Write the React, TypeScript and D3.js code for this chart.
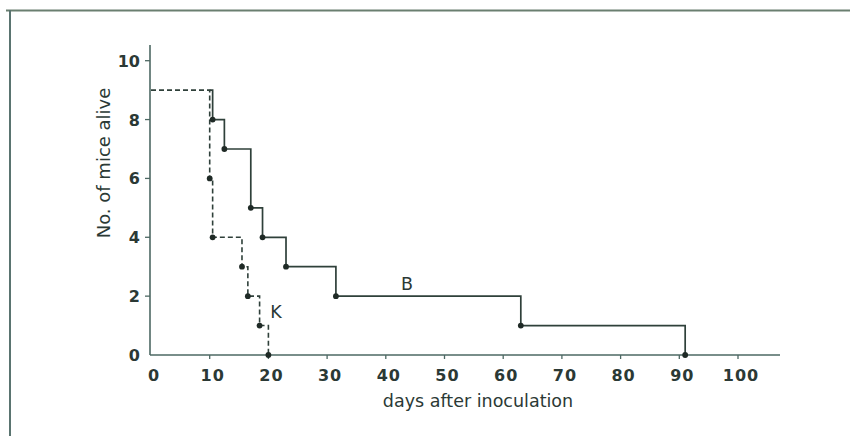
import React from "react";
import * as d3 from "d3";

// Group K (dashed): days of death and mice alive afterwards
const kStart = 9;
const kDays = [10, 10.5, 15.5, 16.5, 18.5, 20];
const kAlive = [6, 4, 3, 2, 1, 0];

// Group B (solid)
const bStart = 9;
const bDays = [10.5, 12.5, 17, 19, 23, 31.5, 63, 91];
const bAlive = [8, 7, 5, 4, 3, 2, 1, 0];

const xTicks = [0, 10, 20, 30, 40, 50, 60, 70, 80, 90, 100];
const yTicks = [0, 2, 4, 6, 8, 10];

const xTitle = "days after inoculation";
const yTitle = "No. of mice alive";

const W = 850;
const H = 436;

export default function App() {
  const x = d3.scaleLinear().domain([0, 100]).range([151, 738]);
  const y = d3.scaleLinear().domain([0, 10]).range([355, 60.7]);

  const lineColor = "#2f403a";
  const axisColor = "#4d6863";
  const textColor = "#2b3935";

  const kPts: [number, number][] = [[0, kStart], ...kDays.map((d, i) => [d, kAlive[i]] as [number, number])];
  // B shares the starting level with K; the solid line becomes visible from K's first drop
  const bPts: [number, number][] = [[kDays[0], bStart], ...bDays.map((d, i) => [d, bAlive[i]] as [number, number])];

  const line = d3
    .line<[number, number]>()
    .x((d) => x(d[0]))
    .y((d) => y(d[1]))
    .curve(d3.curveStepAfter);

  const font = "'DejaVu Sans', sans-serif";

  return (
    <svg
      width={W}
      height={H}
      style={{ position: "absolute", left: 0, top: 0, background: "#fff" }}
    >
      {/* frame */}
      <line x1={6} x2={W} y1={10.5} y2={10.5} stroke="#6a7f70" strokeWidth={2} />
      <line x1={10} x2={10} y1={10} y2={H} stroke="#5a7470" strokeWidth={2} />

      {/* axes */}
      <line x1={x(0) - 1} x2={780} y1={y(0)} y2={y(0)} stroke={axisColor} strokeWidth={1.6} />
      <line x1={x(0) - 1} x2={x(0) - 1} y1={45} y2={y(0)} stroke={axisColor} strokeWidth={1.6} />

      {xTicks.map((t) => (
        <g key={"x" + t}>
          {t > 0 && (
            <line x1={x(t)} x2={x(t)} y1={y(0)} y2={y(0) + 4} stroke={axisColor} strokeWidth={1.3} />
          )}
          <text
            x={x(t) + 3}
            y={381}
            textAnchor="middle"
            fontFamily={font}
            fontWeight={600}
            fontSize={16}
            letterSpacing={1}
            fill={textColor}
          >
            {t}
          </text>
        </g>
      ))}

      {yTicks.map((t) => (
        <g key={"y" + t}>
          {t > 0 && (
            <line x1={x(0) - 6} x2={x(0) - 1} y1={y(t)} y2={y(t)} stroke={axisColor} strokeWidth={1.3} />
          )}
          <text
            x={140}
            y={y(t) + 6}
            textAnchor="end"
            fontFamily={font}
            fontWeight={600}
            fontSize={16}
            fill={textColor}
          >
            {t}
          </text>
        </g>
      ))}

      <text
        x={478}
        y={407}
        textAnchor="middle"
        fontFamily={font}
        fontSize={17.5}
        fill={textColor}
      >
        {xTitle}
      </text>
      <text
        transform={`translate(110,${163}) rotate(-90)`}
        textAnchor="middle"
        fontFamily={font}
        fontSize={18}
        fill={textColor}
      >
        {yTitle}
      </text>

      {/* curves */}
      <path d={line(kPts) || ""} fill="none" stroke={lineColor} strokeWidth={1.6} strokeDasharray="5,3" />
      <path d={line(bPts) || ""} fill="none" stroke={lineColor} strokeWidth={1.7} />

      {kDays.map((d, i) => (
        <circle key={"kd" + i} cx={x(d)} cy={y(kAlive[i])} r={2.9} fill="#1f2a26" />
      ))}
      {bDays.map((d, i) => (
        <circle key={"bd" + i} cx={x(d)} cy={y(bAlive[i])} r={2.9} fill="#1f2a26" />
      ))}

      {/* curve labels */}
      <text x={407} y={290} textAnchor="middle" fontFamily={font} fontSize={17.5} fill={textColor}>
        B
      </text>
      <text x={276} y={318} textAnchor="middle" fontFamily={font} fontSize={17.5} fill={textColor}>
        K
      </text>
    </svg>
  );
}
